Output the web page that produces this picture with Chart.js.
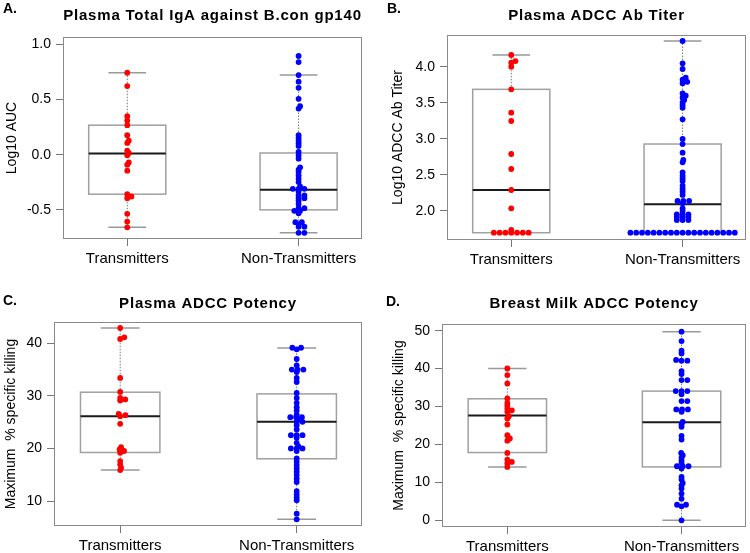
<!DOCTYPE html>
<html>
<head>
<meta charset="utf-8">
<script src="https://cdn.jsdelivr.net/npm/chart.js@4.4.0/dist/chart.umd.min.js"></script>
<style>
    body { margin: 0; background: #fff; width: 750px; height: 553px; position: relative; overflow: hidden; }
    canvas { position: absolute; }
</style>
</head>
<body>
<canvas id="panelA" width="375" height="276" style="left:0;top:0"></canvas>
<canvas id="panelB" width="375" height="276" style="left:375px;top:0"></canvas>
<canvas id="panelC" width="375" height="277" style="left:0;top:276px"></canvas>
<canvas id="panelD" width="375" height="277" style="left:375px;top:276px"></canvas>
<script>
const groups = ['Transmitters', 'Non-Transmitters'];

// A. Plasma total IgA (log10 AUC)
const aTrans = [0.742, 0.621, 0.348, 0.309, 0.267, 0.176, 0.127, 0.106, 0.036, 0.015, -0.006, -0.07, -0.091, -0.145, -0.358, -0.379, -0.394, -0.536, -0.606, -0.658];
const aNon = [0.894, 0.839, 0.721, 0.661, 0.606, 0.506, 0.439, 0.418, 0.176, 0.152, 0.127, 0.103, 0.079, 0.024, -0.006, -0.036,
    -0.115, -0.136, -0.158, -0.188, -0.218, -0.248, -0.288, -0.309, -0.309, -0.309, -0.333, -0.37, -0.37, -0.394, -0.394,
    -0.418, -0.448, -0.485, -0.485, -0.509, -0.509, -0.53, -0.612, -0.612, -0.63, -0.652, -0.652, -0.708, -0.708];
const aTransBox = [-0.658, -0.358, 0.01, 0.267, 0.742];   // low whisker, q1, median, q3, high whisker
const aNonBox = [-0.708, -0.5, -0.318, 0.015, 0.721];
const aTicks = [-0.5, 0.0, 0.5, 1.0];

// B. Plasma ADCC Ab titer (log10)
const bTrans = [4.162, 4.078, 4.055, 4.0, 3.686, 3.363, 3.247, 2.79, 2.582, 2.291, 2.037, 1.737,
    1.699, 1.699, 1.699, 1.699, 1.699, 1.699, 1.699];
const bNon = [4.356, 4.046, 3.968, 3.848, 3.82, 3.79, 3.77, 3.63, 3.598, 3.57, 3.538, 3.506, 3.469, 3.432, 3.27,
    2.998, 2.928, 2.808, 2.707, 2.674, 2.536, 2.49, 2.453, 2.416, 2.35, 2.305, 2.268, 2.222,
    2.139, 2.139, 2.139, 2.106, 2.037, 2.0, 1.954, 1.954, 1.954, 1.917, 1.917, 1.917, 1.875, 1.875, 1.875,
    1.699, 1.699, 1.699, 1.699, 1.699, 1.699, 1.699, 1.699, 1.699, 1.699,
    1.699, 1.699, 1.699, 1.699, 1.699, 1.699, 1.699, 1.699, 1.699];
const bTransBox = [1.699, 1.699, 2.291, 3.686, 4.162];
const bNonBox = [1.699, 1.699, 2.092, 2.928, 4.356];
const bTicks = [2.0, 2.5, 3.0, 3.5, 4.0];

// C. Plasma ADCC potency (% specific killing)
const cTrans = [42.85, 41.08, 40.76, 33.37, 30.72, 29.58, 29.3, 29.08, 26.55, 26.3, 26.11, 24.66, 20.23, 19.79, 19.5, 19.16, 17.58, 16.95, 16.32, 15.87];
const cNon = [39.1, 39.1, 38.8, 36.97, 35.77, 34.95, 34.95, 34.95, 34.5, 33.37, 32.6, 30.53, 29.58, 28.64, 27.81, 27.18, 26.42,
    25.92, 25.92, 25.92, 25.48, 25.03, 25.03, 24.4, 23.58, 22.51, 22.51, 22.51, 22.0, 21.05, 20.42, 19.98, 19.98, 19.98, 19.48,
    18.09, 17.45, 16.82, 16.19, 15.56, 14.93, 14.23, 13.6, 11.9, 11.26, 10.63, 10.13, 7.6, 6.53];
const cTransBox = [15.87, 19.22, 26.11, 30.66, 42.85];
const cNonBox = [6.53, 18.02, 25.03, 30.34, 39.06];
const cTicks = [10, 20, 30, 40];

// D. Breast milk ADCC potency (% specific killing)
const dTrans = [40.05, 38.29, 36.09, 32.13, 30.99, 30.28, 29.49, 29.0, 28.6, 27.46, 26.85, 25.26, 22.45, 21.57, 21.0, 17.78, 16.02, 15.4, 15.0, 14.08];
const dNon = [49.74, 47.27, 44.72, 44.0, 42.3, 42.08, 42.08, 39.35, 38.56, 36.97, 36.97, 34.07, 34.07, 34.07, 33.27, 31.43, 31.43,
    29.23, 29.23, 29.23, 28.6, 25.97, 25.35, 24.65, 22.27, 21.3, 17.78, 17.17, 16.55, 15.85, 15.14, 14.26, 14.26, 14.26, 13.64,
    11.44, 10.74, 9.86, 9.24, 8.36, 7.04, 5.72, 4.1, 4.1, 3.7, 0];
const dTransBox = [14.08, 17.87, 27.64, 32.04, 40.05];
const dNonBox = [0, 14.08, 25.88, 34.07, 49.74];
const dTicks = [0, 10, 20, 30, 40, 50];

const FONT = 'Liberation Sans, Arial, Helvetica, sans-serif';
const X_MIN = 0.625, X_MAX = 2.37;
const BOX_HALF = 0.225, CAP_HALF = 0.11;

const panels = [
    { id: 'panelA', letter: 'A.', title: 'Plasma Total IgA against B.con gp140', yTitle: 'Log10 AUC',
      trans: aTrans, non: aNon, boxes: [aTransBox, aNonBox], ticks: aTicks, digits: 1, yMin: -0.764, yMax: 1.066,
      area: { left: 63, top: 37, right: 362, bottom: 239 }, yTitlePad: 3.6, letterX: 3, letterY: 13, titleY: 20 },
    { id: 'panelB', letter: 'B.', title: 'Plasma ADCC Ab Titer', yTitle: 'Log10 ADCC Ab Titer',
      trans: bTrans, non: bNon, boxes: [bTransBox, bNonBox], ticks: bTicks, digits: 1, yMin: 1.598, yMax: 4.439,
      area: { left: 72, top: 35, right: 372, bottom: 240 }, yTitlePad: 14.6, letterX: 12, letterY: 13, titleY: 20 },
    { id: 'panelC', letter: 'C.', title: 'Plasma ADCC Potency', yTitle: 'Maximum  % specific killing',
      trans: cTrans, non: cNon, boxes: [cTransBox, cNonBox], ticks: cTicks, digits: 0, yMin: 5.26, yMax: 43.99,
      area: { left: 54, top: 46, right: 362, bottom: 250 }, yTitlePad: 2.6, letterX: 3, letterY: 29, titleY: 32 },
    { id: 'panelD', letter: 'D.', title: 'Breast Milk ADCC Potency', yTitle: 'Maximum  % specific killing',
      trans: dTrans, non: dNon, boxes: [dTransBox, dNonBox], ticks: dTicks, digits: 0, yMin: -1.76, yMax: 51.76,
      area: { left: 67, top: 48, right: 373, bottom: 251 }, yTitlePad: 15.6, letterX: 11, letterY: 30, titleY: 32 }
];

// box, whiskers, frame and titles
const boxPlugin = {
    id: 'boxes',
    beforeDatasetsDraw(chart) {
        const p = chart.canvas.$panel;
        const { ctx, chartArea: a, scales: { x, y } } = chart;
        ctx.save();
        ctx.strokeStyle = '#8a8a8a';
        ctx.lineWidth = 1;
        ctx.strokeRect(a.left + 0.5, a.top + 0.5, a.right - a.left - 1, a.bottom - a.top - 1);

        p.boxes.forEach((b, i) => {
            const c = i + 1;
            const cx = x.getPixelForValue(c);
            const [lo, q1, med, q3, hi] = b.map(v => y.getPixelForValue(v));
            // dotted whiskers
            ctx.strokeStyle = '#777';
            ctx.lineWidth = 1;
            ctx.setLineDash([1.5, 1.5]);
            ctx.beginPath();
            ctx.moveTo(cx, lo); ctx.lineTo(cx, q1);
            ctx.moveTo(cx, q3); ctx.lineTo(cx, hi);
            ctx.stroke();
            ctx.setLineDash([]);
            // caps
            ctx.strokeStyle = '#999';
            ctx.lineWidth = 1.5;
            ctx.beginPath();
            ctx.moveTo(x.getPixelForValue(c - CAP_HALF), lo); ctx.lineTo(x.getPixelForValue(c + CAP_HALF), lo);
            ctx.moveTo(x.getPixelForValue(c - CAP_HALF), hi); ctx.lineTo(x.getPixelForValue(c + CAP_HALF), hi);
            ctx.stroke();
            // box
            const l = x.getPixelForValue(c - BOX_HALF), r = x.getPixelForValue(c + BOX_HALF);
            ctx.strokeStyle = '#a0a0a0';
            ctx.strokeRect(l, q3, r - l, q1 - q3);
            // median
            ctx.strokeStyle = '#1a1a1a';
            ctx.lineWidth = 2;
            ctx.beginPath();
            ctx.moveTo(l, med); ctx.lineTo(r, med);
            ctx.stroke();
        });
        ctx.restore();
    },
    afterDraw(chart) {
        const p = chart.canvas.$panel;
        const { ctx, chartArea: a } = chart;
        ctx.save();
        ctx.fillStyle = '#000';
        ctx.textBaseline = 'alphabetic';
        ctx.font = 'bold 14px ' + FONT;
        ctx.textAlign = 'left';
        ctx.fillText(p.letter, p.letterX, p.letterY);
        ctx.font = 'bold 15px ' + FONT;
        ctx.letterSpacing = '0.8px';
        ctx.textAlign = 'center';
        ctx.fillText(p.title, (a.left + a.right) / 2, p.titleY);
        ctx.restore();
    }
};

// beeswarm offsets, worked out in pixels through the chart's own scales
function swarm(values, center, xs, ys) {
    const dx = 5.8, dy = 2.4;
    const cx = xs.getPixelForValue(center);
    const placed = [];
    const out = [];
    const order = values.map((v, i) => i).sort((i, j) => values[i] - values[j]);
    for (const i of order) {
        const py = ys.getPixelForValue(values[i]);
        const cands = [0];
        placed.forEach(q => {
            const t = (q.py - py) / dy;
            if (Math.abs(t) < 1) {
                const w = dx * Math.sqrt(1 - t * t);
                cands.push(q.off + w, q.off - w);
            }
        });
        cands.sort((m, n) => Math.abs(m) - Math.abs(n) || n - m);
        let off = 0;
        for (const c of cands) {
            const free = placed.every(q => {
                const t = (q.py - py) / dy, s = (q.off - c) / dx;
                return t * t + s * s >= 0.999;
            });
            if (free) { off = c; break; }
        }
        placed.push({ py, off });
        out[i] = { x: xs.getValueForPixel(cx + off), y: values[i] };
    }
    return out;
}

function makePanel(p) {
    const canvas = document.getElementById(p.id);
    canvas.$panel = p;
    const W = canvas.width, H = canvas.height;
    const chart = new Chart(canvas, {
        type: 'scatter',
        data: {
            datasets: [
                { data: p.trans.map(v => ({ x: 1, y: v })), backgroundColor: '#ff0000', borderWidth: 0, pointRadius: 2.9 },
                { data: p.non.map(v => ({ x: 2, y: v })), backgroundColor: '#0000ff', borderWidth: 0, pointRadius: 2.9 }
            ]
        },
        options: {
            responsive: false,
            animation: false,
            events: [],
            layout: { padding: { left: 0, top: p.area.top, right: W - p.area.right, bottom: 0 } },
            plugins: { legend: { display: false }, tooltip: { enabled: false } },
            scales: {
                x: {
                    type: 'linear', min: X_MIN, max: X_MAX,
                    afterFit: s => { s.height = H - p.area.bottom; },
                    afterBuildTicks: s => { s.ticks = [{ value: 1 }, { value: 2 }]; },
                    ticks: { callback: v => groups[v - 1], color: '#000', font: { family: FONT, size: 15 }, padding: 4, autoSkip: false, maxRotation: 0 },
                    grid: { drawOnChartArea: false, drawTicks: true, tickLength: 7, color: '#777' },
                    border: { display: false }
                },
                y: {
                    type: 'linear', min: p.yMin, max: p.yMax,
                    afterFit: s => { s.width = p.area.left; },
                    afterBuildTicks: s => { s.ticks = p.ticks.map(v => ({ value: v })); },
                    ticks: { callback: v => v.toFixed(p.digits), color: '#000', font: { family: FONT, size: 14 }, padding: 5 },
                    grid: { drawOnChartArea: false, drawTicks: true, tickLength: 7, color: '#777' },
                    border: { display: false },
                    title: { display: true, text: p.yTitle, color: '#000', font: { family: FONT, size: 14 }, padding: { top: p.yTitlePad, bottom: 0 } }
                }
            }
        },
        plugins: [boxPlugin]
    });
    chart.data.datasets[0].data = swarm(p.trans, 1, chart.scales.x, chart.scales.y);
    chart.data.datasets[1].data = swarm(p.non, 2, chart.scales.x, chart.scales.y);
    chart.update('none');
    return chart;
}

panels.forEach(makePanel);
</script>
</body>
</html>
